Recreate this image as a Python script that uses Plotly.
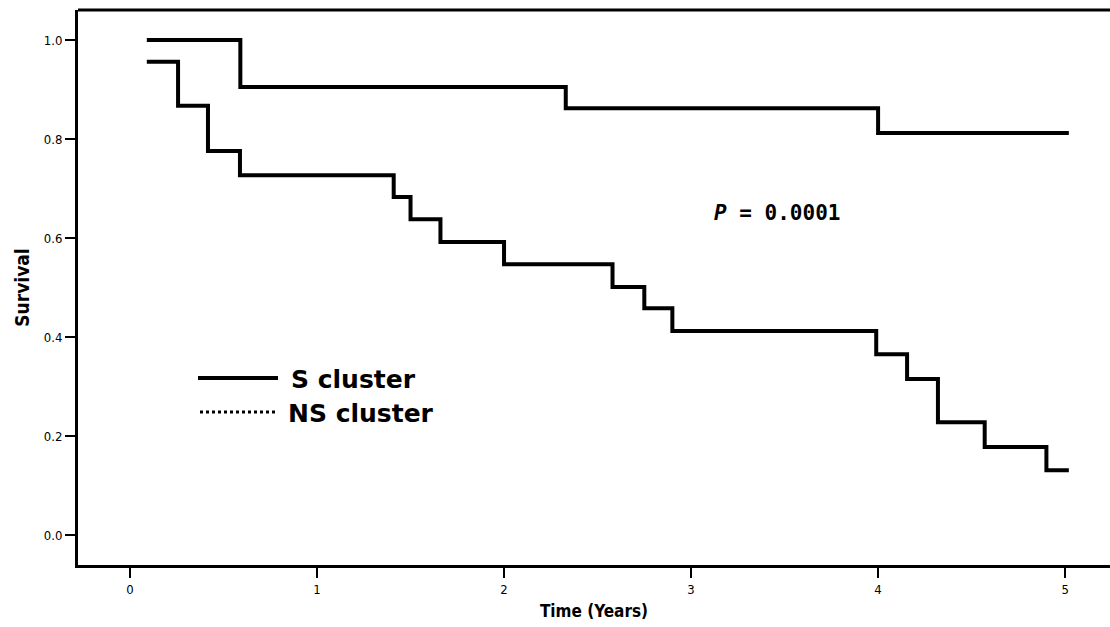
import plotly.graph_objects as go

# Kaplan-Meier step data
s_times = [0.09, 0.257, 0.417, 0.588, 1.41, 1.50, 1.66, 2.0, 2.58, 2.75, 2.90, 3.99, 4.155, 4.32, 4.57, 4.90, 5.02]
s_surv = [0.956, 0.867, 0.776, 0.727, 0.683, 0.638, 0.592, 0.547, 0.501, 0.458, 0.412, 0.365, 0.315, 0.228, 0.178, 0.131, 0.131]

ns_times = [0.09, 0.59, 2.33, 4.0, 5.02]
ns_surv = [1.0, 0.905, 0.862, 0.812, 0.812]

x_ticks = [0, 1, 2, 3, 4, 5]
y_ticks = [0.0, 0.2, 0.4, 0.6, 0.8, 1.0]
y_ticklabels = ["0.0", "0.2", "0.4", "0.6", "0.8", "1.0"]

series_names = ["S cluster", "NS cluster"]
p_text = "<i>P</i> = 0.0001"

W, H = 1110, 627
L, R, T, B = 78, 0, 10, 62
PW, PH = W - L - R, H - T - B


def px(xp):
    return (xp - L) / PW


def py(yp):
    return (H - B - yp) / PH


fig = go.Figure()
fig.add_trace(go.Scatter(x=s_times, y=s_surv, mode="lines", line=dict(shape="hv", color="black", width=4),
                         name=series_names[0], showlegend=False))
fig.add_trace(go.Scatter(x=ns_times, y=ns_surv, mode="lines", line=dict(shape="hv", color="black", width=4),
                         name=series_names[1], showlegend=False))

# Legend drawn manually
shapes = [
    dict(type="line", xref="paper", yref="paper", x0=px(198), x1=px(278), y0=py(378), y1=py(378),
         line=dict(color="black", width=4)),
    dict(type="line", xref="paper", yref="paper", x0=px(200), x1=px(276), y0=py(412), y1=py(412),
         line=dict(color="black", width=3, dash="dot")),
    # top frame line
    dict(type="line", xref="paper", yref="paper", x0=0, x1=1, y0=1, y1=1,
         line=dict(color="black", width=3)),
]
annotations = [
    dict(text=series_names[0], xref="paper", yref="paper", x=px(289), y=py(379), xanchor="left", yanchor="middle",
         showarrow=False, font=dict(family="DejaVu Sans", size=25, color="black", weight="bold")),
    dict(text=series_names[1], xref="paper", yref="paper", x=px(286), y=py(413), xanchor="left", yanchor="middle",
         showarrow=False, font=dict(family="DejaVu Sans", size=25, color="black", weight="bold")),
    dict(text="<b>" + p_text + "</b>", xref="paper", yref="paper", x=px(777), y=py(213), xanchor="center",
         yanchor="middle", showarrow=False, font=dict(family="DejaVu Sans Mono", size=21, color="black")),
]

fig.update_layout(
    width=W, height=H,
    margin=dict(l=L, r=R, t=T, b=B),
    paper_bgcolor="white", plot_bgcolor="white",
    showlegend=False,
    shapes=shapes, annotations=annotations,
    xaxis=dict(range=[-0.278, 5.24], tickvals=x_ticks, ticktext=[str(v) for v in x_ticks],
               showgrid=False, zeroline=False, showline=True, linecolor="black", linewidth=3,
               ticks="outside", ticklen=10, tickwidth=2, tickcolor="black",
               tickfont=dict(family="DejaVu Sans Condensed", size=13, color="black"),
               title=dict(text="<b>Time (Years)</b>", font=dict(family="DejaVu Sans Condensed", size=17, color="black"),
                          standoff=10)),
    yaxis=dict(range=[-0.0606, 1.0606], tickvals=y_ticks, ticktext=y_ticklabels,
               showgrid=False, zeroline=False, showline=True, linecolor="black", linewidth=3,
               ticks="outside", ticklen=10, tickwidth=2, tickcolor="black",
               tickfont=dict(family="DejaVu Sans Condensed", size=13, color="black"),
               title=dict(text="<b>Survival</b>", font=dict(family="DejaVu Sans Condensed", size=19, color="black"),
                          standoff=10)),
)

fig.write_html("out.html", config={"displayModeBar": False},
               post_script="document.body.style.margin='0';document.body.style.overflow='hidden';")
